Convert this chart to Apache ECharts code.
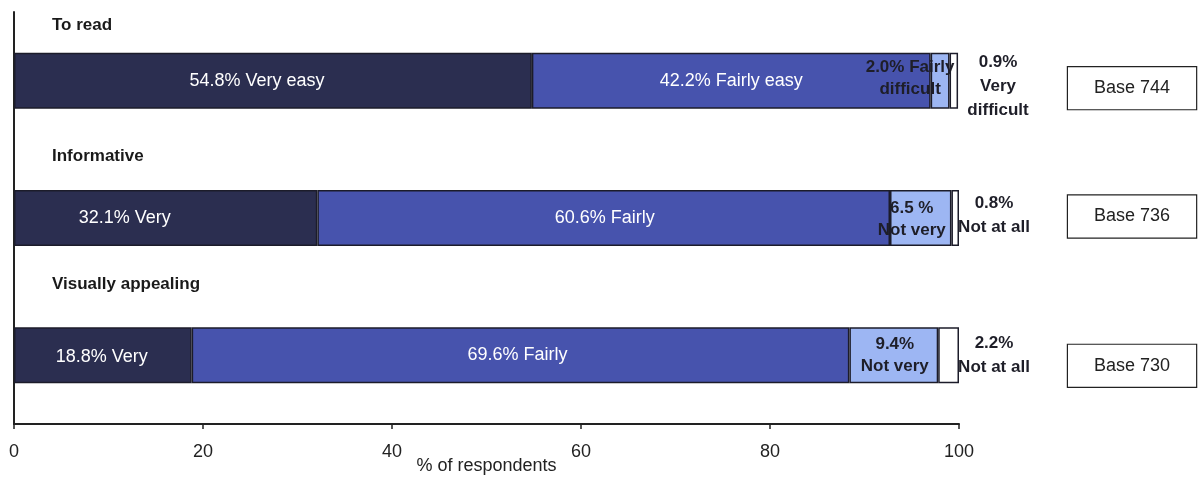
<!DOCTYPE html>
<html>
<head>
<meta charset="utf-8">
<script src="https://cdn.jsdelivr.net/npm/echarts@6/dist/echarts.min.js"></script>
<style>
html,body{margin:0;padding:0;background:#fff;}
#chart{width:1203px;height:478px;}
</style>
</head>
<body>
<div id="chart"></div>
<script>
// ---- data ----
var categories = ['To read', 'Informative', 'Visually appealing'];
var veryValues = [54.8, 32.1, 18.8];
var fairlyValues = [42.2, 60.6, 69.6];
var notVeryValues = [2.0, 6.5, 9.4];
var notAtAllValues = [0.9, 0.8, 2.2];
var veryNames = ['Very easy', 'Very', 'Very'];
var fairlyNames = ['Fairly easy', 'Fairly', 'Fairly'];
var notVeryNames = ['% Fairly\ndifficult', ' %\nNot very', '%\nNot very'];
var notAtAllNames = ['%\nVery\ndifficult', '%\nNot at all', '%\nNot at all'];
var bases = [744, 736, 730];
var xTicks = [0, 20, 40, 60, 80, 100];

// ---- styles / positions (not data) ----
var FONT = 'Liberation Sans, Arial, sans-serif';
var veryOffsets = [[-16, 0], [-41, 0], [-1, 2]];
var fairlyOffsets = [[0, 0], [1, 0], [-3, 0]];
var notVeryOffsets = [[-30, -2], [-9, 1], [1, 0]];
var notAtAllOffsets = [[5, 6], [0, -3], [0, 0]];
var titlePad = [47, 53, 63];
var baseShift = [7, -2, 10];

function items(values, offsets) {
  return values.map(function (v, i) {
    return { value: v, label: { offset: offsets[i] } };
  });
}

var border = { borderColor: '#1c1c2a', borderWidth: 1.5 };

var titleRich = {};
titlePad.forEach(function (p, i) {
  titleRich['t' + i] = { fontFamily: FONT, fontSize: 17, fontWeight: 'bold', color: '#1a1a1a', padding: [0, 0, p, 0] };
});
var baseRich = {
  b: {
    fontFamily: FONT, fontSize: 18, color: '#222', lineHeight: 19,
    padding: [12, 26, 12, 26], borderColor: '#222', borderWidth: 1.2,
    backgroundColor: '#fff', verticalAlign: 'bottom'
  }
};
baseShift.forEach(function (s, i) {
  baseRich['s' + i] = { width: 1, height: 43 + 2 * s, fontSize: 1, lineHeight: 43 + 2 * s };
});

var chart = echarts.init(document.getElementById('chart'), null, { renderer: 'canvas' });
chart.setOption({
  animation: false,
  backgroundColor: '#fff',
  grid: { left: 14, right: 244, top: 12, bottom: 54, containLabel: false, outerBoundsMode: 'none' },
  xAxis: {
    type: 'value', min: xTicks[0], max: xTicks[xTicks.length - 1], interval: xTicks[1] - xTicks[0],
    splitLine: { show: false },
    axisLine: { show: true, lineStyle: { color: '#222', width: 2 } },
    axisTick: { show: true, length: 5, lineStyle: { color: '#222', width: 1.5 } },
    axisLabel: { fontFamily: FONT, fontSize: 18, color: '#222', margin: 19 },
    name: '% of respondents', nameLocation: 'middle', nameGap: 33, nameMoveOverlap: false,
    nameTextStyle: { fontFamily: FONT, fontSize: 18, color: '#222' }
  },
  yAxis: [{
    type: 'category', data: categories, inverse: true,
    axisLine: { show: true, lineStyle: { color: '#222', width: 2 } },
    axisTick: { show: false },
    axisLabel: {
      inside: true, align: 'left', verticalAlign: 'bottom', margin: 38,
      formatter: function (v, i) { return '{t' + i + '|' + v + '}'; },
      rich: titleRich
    }
  }, {
    type: 'category', data: categories, inverse: true, position: 'right',
    axisLine: { show: false }, axisTick: { show: false },
    axisLabel: {
      margin: 108, align: 'left',
      formatter: function (v, i) { return '{s' + i + '| }{b|Base ' + bases[i] + '}'; },
      rich: baseRich
    }
  }],
  series: [{
    type: 'bar', stack: 'all', barWidth: 56,
    data: items(veryValues, veryOffsets),
    itemStyle: Object.assign({ color: '#2b2e50' }, border),
    label: {
      show: true, position: 'inside', color: '#fff', fontFamily: FONT, fontSize: 18,
      formatter: function (p) { return p.value.toFixed(1) + '% ' + veryNames[p.dataIndex]; }
    }
  }, {
    type: 'bar', stack: 'all',
    data: items(fairlyValues, fairlyOffsets),
    itemStyle: Object.assign({ color: '#4753ad' }, border),
    label: {
      show: true, position: 'inside', color: '#fff', fontFamily: FONT, fontSize: 18,
      formatter: function (p) { return p.value.toFixed(1) + '% ' + fairlyNames[p.dataIndex]; }
    }
  }, {
    type: 'bar', stack: 'all',
    data: items(notVeryValues, notVeryOffsets),
    itemStyle: Object.assign({ color: '#9db6f3' }, border),
    label: {
      show: true, position: 'inside', color: '#1e1e28', fontFamily: FONT, fontSize: 17,
      fontWeight: 'bold', lineHeight: 22, align: 'center',
      formatter: function (p) { return p.value.toFixed(1) + notVeryNames[p.dataIndex]; }
    }
  }, {
    type: 'bar', stack: 'all',
    data: items(notAtAllValues, notAtAllOffsets),
    itemStyle: Object.assign({ color: '#ffffff' }, border),
    label: {
      show: true, position: 'right', distance: 35, align: 'center', verticalAlign: 'middle',
      color: '#1e1e28', fontFamily: FONT, fontSize: 17, fontWeight: 'bold', lineHeight: 24,
      formatter: function (p) { return p.value.toFixed(1) + notAtAllNames[p.dataIndex]; }
    }
  }]
});
</script>
</body>
</html>
